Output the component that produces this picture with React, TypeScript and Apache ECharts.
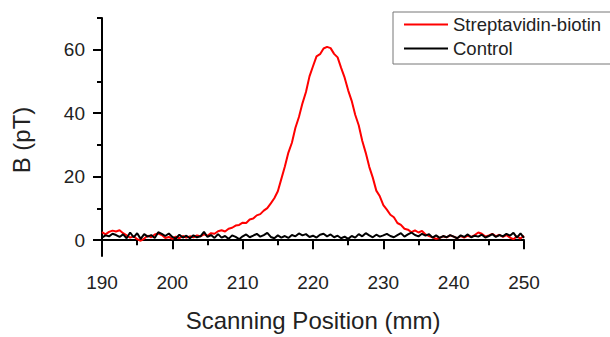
import React, { useEffect, useRef } from "react";
import * as echarts from "echarts";

const positions: number[] = [
  190, 190.5, 191, 191.5, 192, 192.5, 193, 193.5, 194, 194.5, 195, 195.5, 196, 196.5, 197, 197.5, 198, 198.5, 199, 199.5,
  200, 200.5, 201, 201.5, 202, 202.5, 203, 203.5, 204, 204.5, 205, 205.5, 206, 206.5, 207, 207.5, 208, 208.5, 209, 209.5,
  210, 210.5, 211, 211.5, 212, 212.5, 213, 213.5, 214, 214.5, 215, 215.5, 216, 216.5, 217, 217.5, 218, 218.5, 219, 219.5,
  220, 220.5, 221, 221.5, 222, 222.5, 223, 223.5, 224, 224.5, 225, 225.5, 226, 226.5, 227, 227.5, 228, 228.5, 229, 229.5,
  230, 230.5, 231, 231.5, 232, 232.5, 233, 233.5, 234, 234.5, 235, 235.5, 236, 236.5, 237, 237.5, 238, 238.5, 239, 239.5,
  240, 240.5, 241, 241.5, 242, 242.5, 243, 243.5, 244, 244.5, 245, 245.5, 246, 246.5, 247, 247.5, 248, 248.5, 249, 249.5,
  250,
];

const streptavidin: number[] = [
  2.5, 1.8, 2.6, 3.0, 2.7, 3.1, 2.2, 1.5, 0.8, 1.2, 0.3, -0.2, 0.5, 1.4, 0.9, 1.8, 2.1, 1.6, 0.7, 1.0,
  0.4, 1.1, 0.6, 1.3, 0.8, 1.2, 0.9, 1.5, 1.2, 1.8, 1.4, 2.2, 2.0, 2.8, 3.1, 2.7, 3.6, 3.9, 4.6, 4.8,
  5.5, 5.4, 6.5, 6.8, 7.8, 8.2, 9.3, 10.1, 11.6, 13.2, 15.4, 19.3, 23.2, 27.6, 30.7, 35.4, 38.8, 43.1, 46.7, 51.6,
  54.8, 57.9, 58.6, 60.4, 60.9, 60.5, 58.7, 57.6, 54.3, 51.2, 47.2, 43.9, 39.5, 36.2, 31.3, 27.5, 23.1, 19.7, 15.6, 13.8,
  11.0, 9.6, 8.0, 7.2, 5.4, 4.8, 3.6, 3.3, 2.5, 3.1, 2.4, 2.9, 1.8, 1.3, 0.9, 0.4, 0.7, 1.2, 0.9, 1.5,
  1.1, 0.6, 1.3, 0.8, 1.4, 1.0, 1.6, 2.4, 2.0, 1.1, 1.5, 2.0, 1.2, 1.7, 1.0, 1.6, 0.8, 0.3, 1.2, 0.5,
  1.4,
];

const control: number[] = [
  0.8, 1.5, 1.2, 2.0, 1.6, 1.0, 1.8, 0.6, 2.4, 0.9, 2.2, 0.4, 1.9, 1.1, 1.6, 0.7, 2.5, 2.0, 1.3, 2.1,
  1.0, 0.5, 1.7, 0.8, 1.4, 0.6, 1.5, 0.9, 1.2, 2.6, 1.0, 1.6, 0.7, 1.9, 0.8, 1.3, 0.4, 1.5, 1.0, 0.3,
  1.2, 1.8, 0.9, 1.4, 2.0, 1.1, 1.6, 2.3, 1.0, 0.6, 1.5, 0.8, 1.3, 0.7, 1.6, 1.2, 2.1, 1.5, 1.9, 1.0,
  1.4, 0.8, 1.7, 2.0, 1.2, 1.8, 0.9, 1.4, 0.6, 1.1, 0.4, 1.3, 0.8, 1.9, 1.2, 2.2, 1.5, 0.9, 1.7, 1.1,
  1.5, 2.0, 1.3, 0.9, 1.6, 2.2, 1.1, 1.8, 2.4, 1.6, 1.2, 2.0, 1.4, 1.9, 0.8, 1.5, 0.7, 1.3, 0.9, 1.6,
  1.1, 0.6, 1.5, 1.0, 1.8, 0.9, 1.4, 1.1, 1.7, 0.8, 1.3, 1.9, 1.0, 1.6, 1.2, 2.0, 1.4, 2.3, 0.8, 2.1,
  0.7,
];

const yMajorTicks: number[] = [0, 20, 40, 60];
const yMinorTicks: number[] = [10, 30, 50, 70];
const seriesNames: string[] = ["Streptavidin-biotin", "Control"];

const FONT = "Liberation Sans, Arial, sans-serif";

export default function App() {
  const ref = useRef<HTMLDivElement>(null);
  useEffect(() => {
    if (!ref.current) return;
    const chart = echarts.init(ref.current, undefined, { renderer: "svg" });
    const axisColor = "#000";
    chart.setOption({
      animation: false,
      backgroundColor: "#fff",
      grid: { left: 102, top: 18, right: 86, bottom: 77, containLabel: false },
      legend: {
        orient: "vertical",
        left: 393,
        top: 12,
        padding: [3, 12, 6, 11],
        itemWidth: 44,
        itemHeight: 2,
        itemGap: 5,
        borderColor: "#777",
        borderWidth: 1,
        textStyle: { fontFamily: FONT, fontSize: 18.5, color: "#222", lineHeight: 18 },
        data: seriesNames.map((n) => ({ name: n, icon: "rect" })),
      },
      xAxis: {
        type: "value",
        min: 190,
        max: 250,
        interval: 10,
        name: "Scanning Position (mm)",
        nameLocation: "middle",
        nameGap: 52,
        nameTextStyle: { fontFamily: FONT, fontSize: 24, color: "#222" },
        axisLine: { show: true, lineStyle: { color: axisColor, width: 2 } },
        axisTick: { show: true, length: 9, lineStyle: { color: axisColor, width: 2 } },
        minorTick: { show: true, splitNumber: 2, length: 5, lineStyle: { color: axisColor, width: 2 } },
        axisLabel: { fontFamily: FONT, fontSize: 19, color: "#222", margin: 17 },
        splitLine: { show: false },
      },
      yAxis: [
        {
          type: "value",
          min: -5,
          max: 70,
          position: "left",
          name: "B (pT)",
          nameLocation: "middle",
          nameGap: 69,
          nameTextStyle: { fontFamily: FONT, fontSize: 24, color: "#222", padding: [0, 6, 0, 0] },
          axisLine: { show: true, lineStyle: { color: axisColor, width: 2 } },
          axisTick: { show: true, length: 9, customValues: yMajorTicks, lineStyle: { color: axisColor, width: 2 } },
          axisLabel: { fontFamily: FONT, fontSize: 19, color: "#222", margin: 17, customValues: yMajorTicks },
          splitLine: { show: false },
        },
        {
          type: "value",
          min: -5,
          max: 70,
          position: "left",
          offset: 0,
          axisLine: { show: false },
          axisTick: { show: true, length: 5, customValues: yMinorTicks, lineStyle: { color: axisColor, width: 2 } },
          axisLabel: { show: false, customValues: yMinorTicks },
          splitLine: { show: false },
        },
      ],
      series: [
        {
          name: seriesNames[0],
          type: "line",
          symbol: "none",
          data: positions.map((p, i) => [p, streptavidin[i]]),
          lineStyle: { color: "#ff0000", width: 2 },
          itemStyle: { color: "#ff0000" },
        },
        {
          name: seriesNames[1],
          type: "line",
          symbol: "none",
          data: positions.map((p, i) => [p, control[i]]),
          lineStyle: { color: "#000", width: 2 },
          itemStyle: { color: "#000" },
        },
      ],
    });
    return () => chart.dispose();
  }, []);
  return <div ref={ref} style={{ position: "fixed", left: 0, top: 0, width: 610, height: 337 }} />;
}
